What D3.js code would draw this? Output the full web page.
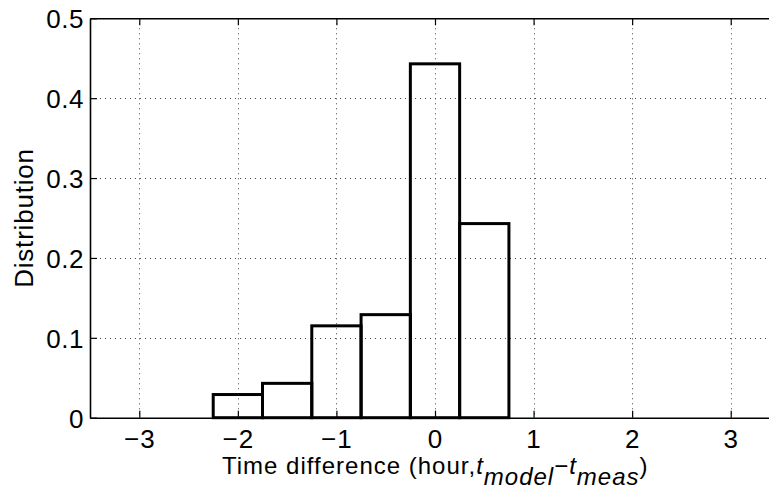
<!DOCTYPE html>
<html><head><meta charset="utf-8">
<script src="https://cdn.jsdelivr.net/npm/d3@7/dist/d3.min.js"></script>
<style>body{margin:0;background:#fff;} svg{display:block;font-family:"Liberation Sans",Arial,Helvetica,sans-serif;}</style>
</head><body>
<script>
const binCenters = [-2, -1.5, -1, -0.5, 0, 0.5];
const binValues = [0.029, 0.043, 0.115, 0.129, 0.443, 0.243];
const binWidth = 0.5;
const xTicks = [-3, -2, -1, 0, 1, 2, 3];
const yTicks = [0, 0.1, 0.2, 0.3, 0.4, 0.5];
const xDomain = [-3.5, 3.5];
const yDomain = [0, 0.5];

(function () {
const W = 769, H = 493;
const svg = d3.select("body").append("svg").attr("width", W).attr("height", H);
const pL = 90, pR = 780, pT = 18.3, pB = 417.7;
const x = d3.scaleLinear().domain(xDomain).range([pL, pR]);
const y = d3.scaleLinear().domain(yDomain).range([pB, pT]);

// grid
const grid = svg.append("g").attr("stroke", "#444").attr("stroke-width", 1).attr("stroke-dasharray", "1,4");
grid.selectAll("line.v").data(xTicks).join("line")
  .attr("x1", d => Math.round(x(d)) + 0.5).attr("x2", d => Math.round(x(d)) + 0.5)
  .attr("y1", pT).attr("y2", pB);
grid.selectAll("line.h").data(yTicks.filter(d => d > 0 && d < 0.5)).join("line")
  .attr("y1", d => Math.round(y(d)) + 0.5).attr("y2", d => Math.round(y(d)) + 0.5)
  .attr("x1", pL).attr("x2", pR);

// bars
svg.append("g").selectAll("rect").data(binCenters).join("rect")
  .attr("x", (d) => x(d - binWidth / 2))
  .attr("width", d => x(d + binWidth / 2) - x(d - binWidth / 2))
  .attr("y", (d, i) => y(binValues[i]))
  .attr("height", (d, i) => y(0) - y(binValues[i]))
  .attr("fill", "none").attr("stroke", "#000").attr("stroke-width", 3);

// axes
const tickLen = 7;
const xb = svg.append("g").attr("transform", `translate(0,${pB})`)
  .call(d3.axisBottom(x).tickValues(xTicks).tickSizeInner(-tickLen).tickSizeOuter(0).tickPadding(12)
    .tickFormat(d => d < 0 ? "\u2212" + Math.abs(d) : d));
const xt = svg.append("g").attr("transform", `translate(0,${pT})`)
  .call(d3.axisTop(x).tickValues(xTicks).tickSizeInner(-tickLen).tickSizeOuter(0).tickFormat(""));
const yl = svg.append("g").attr("transform", `translate(${pL},0)`)
  .call(d3.axisLeft(y).tickValues(yTicks).tickSizeInner(-tickLen).tickSizeOuter(0).tickPadding(6)
    .tickFormat(d => d === 0 ? "0" : d3.format(".1f")(d)));
[xb, xt, yl].forEach(g => {
  g.select(".domain").attr("stroke", "#000").attr("stroke-width", 1.6);
  g.selectAll(".tick line").attr("stroke", "#000").attr("stroke-width", 1.2);
  g.selectAll(".tick text").attr("fill", "#000").attr("font-size", 26)
    .attr("font-family", "Liberation Sans, Arial, sans-serif");
});
xb.selectAll(".tick text").attr("dy", "0.71em").attr("letter-spacing", 1);
yl.selectAll(".tick text").attr("dy", "0.36em").attr("letter-spacing", 0.5);

// axis labels
svg.append("text").attr("transform", `translate(33,${(pT + pB) / 2}) rotate(-90)`)
  .attr("text-anchor", "middle").attr("font-size", 26).attr("letter-spacing", 0.8)
  .attr("fill", "#000").text("Distribution");

const xl = svg.append("text").attr("x", 222).attr("y", 474).attr("text-anchor", "start")
  .attr("font-size", 24).attr("letter-spacing", 1).attr("fill", "#000");
xl.append("tspan").text("Time difference (hour,");
xl.append("tspan").attr("font-style", "italic").text("t");
xl.append("tspan").attr("font-style", "italic").attr("dy", 11).text("model");
xl.append("tspan").attr("dy", -11).text("\u2212");
xl.append("tspan").attr("font-style", "italic").text("t");
xl.append("tspan").attr("font-style", "italic").attr("dy", 11).text("meas");
xl.append("tspan").attr("dy", -11).text(")");
})();
</script>
</body></html>
